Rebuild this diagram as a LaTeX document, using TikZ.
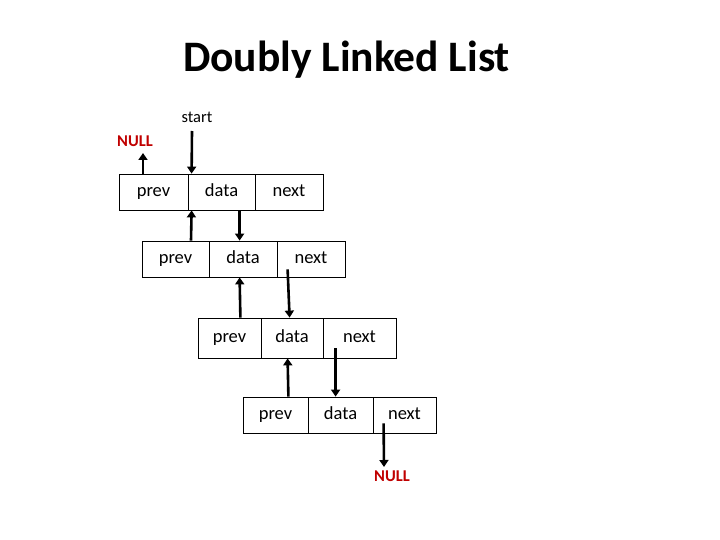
\documentclass[tikz,border=0pt]{standalone}
\usepackage{fontspec}
\setmainfont{Carlito}
\usetikzlibrary{arrows.meta}
\definecolor{nullred}{HTML}{C00000}
\begin{document}
\begin{tikzpicture}[x=1pt,y=-1pt,
  cell/.style={draw=black,line width=0.8pt,minimum height=36pt,inner sep=0pt,text height=12pt,text depth=3pt,font=\fontsize{18.5}{20}\selectfont},
  arr/.style={line width=2.6pt,-{Triangle[length=7pt,width=9pt]}},
  nulltxt/.style={font=\fontsize{16.5}{18}\selectfont\bfseries,text=nullred,inner sep=0pt}]
\useasboundingbox (0,0) rectangle (720,540);
\node[font=\fontsize{43.5}{46}\selectfont\bfseries,anchor=base,inner sep=0pt] (title) at (346.5,72) {Doubly Linked List};
% box 1
\node[cell,minimum width=69pt] (p1) at (153.5,192) {prev};
\node[cell,minimum width=67pt] (d1) at (221.5,192) {data};
\node[cell,minimum width=68pt] (n1) at (289,192) {next};
% box 2
\node[cell,minimum width=67pt] (p2) at (175.5,259) {prev};
\node[cell,minimum width=68pt] (d2) at (243,259) {data};
\node[cell,minimum width=68pt] (n2) at (311,259) {next};
% box 3
\node[cell,minimum width=63pt,minimum height=40pt] (p3) at (229.5,338) {prev};
\node[cell,minimum width=62pt,minimum height=40pt] (d3) at (292,338) {data};
\node[cell,minimum width=73pt,minimum height=40pt] (n3) at (359.5,338) {next};
% box 4
\node[cell,minimum width=65pt] (p4) at (275.5,415) {prev};
\node[cell,minimum width=65pt] (d4) at (340.5,415) {data};
\node[cell,minimum width=63pt] (n4) at (404.5,415) {next};
% labels
\node[nulltxt] (null1) at (135,141) {NULL};
\node[nulltxt] (null2) at (392,476) {NULL};
\node[font=\fontsize{16.5}{18}\selectfont,inner sep=0pt] (start) at (197,117) {start};
\coordinate (startend) at (192,131);
\coordinate (null1end) at (143,153);
\coordinate (null2end) at (384,467);
% arrows
\draw[arr] ([xshift=-10.5pt]p1.north) -- (null1end);
\draw[arr] (startend) -- ([xshift=4pt]d1.north west);
\draw[arr] ([xshift=15.5pt]p2.north) -- ([xshift=4pt]d1.south west);
\draw[arr] ([xshift=-15pt]n1.south west) -- ([xshift=31pt]d2.north west);
\draw[arr] ([xshift=-21pt]p3.north east) -- ([xshift=31pt]d2.south west);
\draw[arr] ([xshift=11pt,yshift=8pt]n2.south west) -- ([xshift=29pt]d3.north west);
\draw[arr] ([xshift=-20pt]p4.north east) -- ([xshift=27pt]d3.south west);
\draw[arr] ([xshift=13pt,yshift=10pt]n3.south west) -- ([xshift=28pt]d4.north west);
\draw[arr] ([xshift=11pt,yshift=10pt]n4.south west) -- (null2end);
\end{tikzpicture}
\end{document}
